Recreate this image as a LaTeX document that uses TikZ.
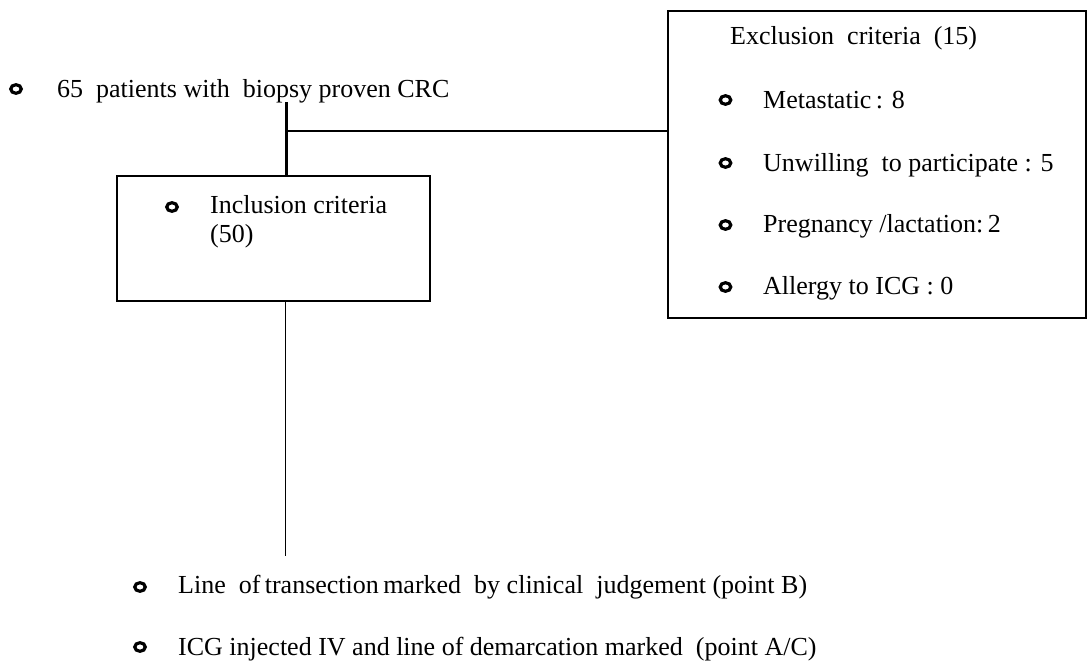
\documentclass[tikz,border=0pt]{standalone}
\usepackage{fontspec}
\setmainfont{Liberation Serif}
\usetikzlibrary{shapes.geometric}
\begin{document}
\begin{tikzpicture}[x=1pt,y=1pt,
  txt/.style={anchor=base west,inner sep=0pt,font=\fontsize{26}{30}\selectfont},
  bul/.style={ellipse,draw,line width=3.2pt,minimum width=10.5pt,minimum height=8.6pt,inner sep=0pt},
  boxed/.style={draw,line width=1.8pt,inner sep=0pt},
  link/.style={line width=1.5pt}]
\useasboundingbox (0,0) rectangle (1087,-661);
% top entry
\node[bul] (b0) at (16,-89) {};
\node[txt] (top) at (57,-97) {65\ \ patients with\ \ biopsy proven CRC};
% inclusion box
\node[boxed,minimum width=313pt,minimum height=125pt] (inc) at (273.5,-238.5) {};
\node[bul] (bi) at (172,-207) {};
\node[txt] (inct) at (210,-213) {Inclusion criteria};
\node[txt] (inc2) at (210,-242) {(50)};
% exclusion box
\node[boxed,minimum width=418pt,minimum height=307pt] (exc) at (877,-164.5) {};
\node[txt] (ext) at (730,-45) {Exclusion\ \ criteria\ \ (15)};
\node[bul] (e1) at (725.5,-100) {};
\node[txt] (t1) at (763,-108) {Metastatic\,: 8};
\node[bul] (e2) at (725.5,-163) {};
\node[txt] (t2) at (763,-171) {Unwilling\ \ to participate : 5};
\node[bul] (e3) at (725.5,-225) {};
\node[txt] (t3) at (763,-232) {Pregnancy /lactation:\,2};
\node[bul] (e4) at (725.5,-287) {};
\node[txt] (t4) at (763,-294) {Allergy to ICG : 0};
% bottom
\node[bul] (f1) at (140,-587) {};
\node[txt] (l1) at (178,-593) {Line\ \ of\,transection\,marked\ \ by clinical\ \ judgement (point B)};
\node[bul] (f2) at (140,-647) {};
\node[txt] (l2) at (178,-655) {ICG injected IV and line of demarcation marked\ \ (point A/C)};
% connectors
\coordinate (s) at (286,-102);
\coordinate (j) at (287,-131);
\coordinate (e) at (285.5,-556);
\draw[line width=3pt] (s) -- (s |- inc.north);
\draw[link] (j) -- (j -| exc.west);
\draw[link] (e |- inc.south) -- (e);
\end{tikzpicture}
\end{document}
